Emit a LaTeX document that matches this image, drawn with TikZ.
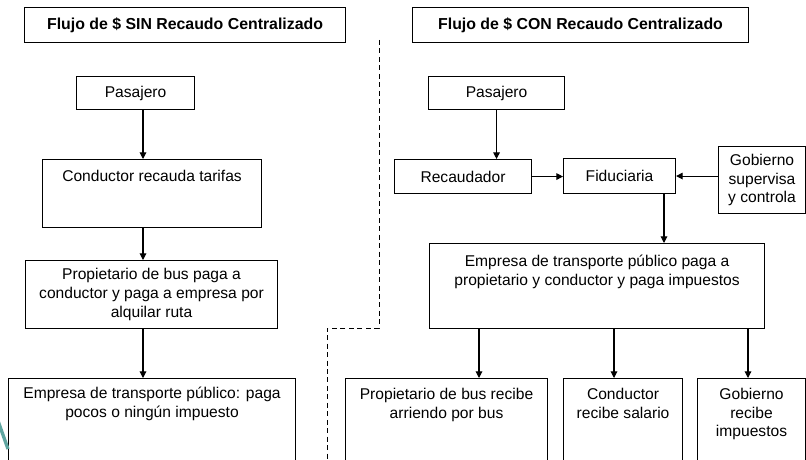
\documentclass[tikz,border=0pt]{standalone}
\usepackage{fontspec}
\setmainfont{Liberation Sans}
\usetikzlibrary{arrows.meta,positioning}
\definecolor{smudge}{RGB}{95,165,160}

\tikzset{
  box/.style={draw, line width=0.8pt, inner sep=0pt, anchor=north west, align=center,
    font=\fontsize{11.7}{14}\selectfont},
  boxsize/.style 2 args={minimum width=#1*0.75pt, minimum height=#2*0.75pt},
  headbox/.style={box, font=\fontsize{11.9}{14}\selectfont\bfseries},
  txt/.style={inner sep=0pt, anchor=north, align=center, font=\fontsize{11.7}{14}\selectfont},
  flow/.style={line width=0.8pt, -{Triangle[length=5pt,width=5pt]}},
  divider/.style={line width=0.7pt, dash pattern=on 3.75pt off 2.6pt}
}

\begin{document}
\begin{tikzpicture}[x=0.75pt,y=-0.75pt]
  %\draw[help lines,step=50] (0,0) grid (806,460);
  \clip (0,0) rectangle (806,460);
  \fill[white] (0,0) rectangle (806,460);

  % sin recaudo centralizado
  \node[headbox, boxsize={321}{35}] (titleL) at (24,7) {Flujo de \$ SIN Recaudo Centralizado};
  \node[box, boxsize={118}{33}] (pasL) at (76,76) {Pasajero};
  \node[box, boxsize={219}{68}] (condL) at (42,159) {};
  \node[txt, below=8.2pt of condL.north] (condLt) {Conductor recauda tarifas};
  \node[box, boxsize={252}{68}] (propL) at (25,260) {Propietario de bus paga a\\conductor y paga a empresa por\\alquilar ruta};
  \node[box, boxsize={287}{120}] (empL) at (8,378) {};
  \node[txt, below=6.8pt of empL.north] (empLt) {Empresa de transporte p\'ublico: paga\\pocos o ning\'un impuesto};
  \coordinate (axisL) at (143,0);
  \draw[flow] (pasL.south -| axisL) -- (condL.north -| axisL);
  \draw[flow] (condL.south -| axisL) -- (propL.north -| axisL);
  \draw[flow] (propL.south -| axisL) -- (empL.north -| axisL);

  % divisoria
  \coordinate (divA) at (379,40);
  \coordinate (divB) at (379,328);
  \coordinate (divC) at (327,328);
  \coordinate (divD) at (327,470);
  \draw[divider] (divA) -- (divB) -- (divC) -- (divD);

  % con recaudo centralizado
  \node[headbox, boxsize={336}{35}] (titleR) at (412,7) {Flujo de \$ CON Recaudo Centralizado};
  \node[box, boxsize={136}{33}] (pasR) at (428,76) {Pasajero};
  \node[box, boxsize={137}{34}] (recR) at (394,159) {Recaudador};
  \node[box, boxsize={112}{35}] (fidR) at (563,158) {Fiduciaria};
  \node[box, boxsize={87}{67}] (gobR) at (718,146) {Gobierno\\supervisa\\y controla};
  \node[box, boxsize={335}{85}] (empR) at (429,243) {};
  \node[txt, below=9pt of empR.north] (empRt) {Empresa de transporte p\'ublico paga a\\propietario y conductor y paga impuestos};
  \node[box, boxsize={202}{120}] (propR) at (345,378) {};
  \node[txt, below=7.5pt of propR.north] (propRt) {Propietario de bus recibe\\arriendo por bus};
  \node[box, boxsize={119}{120}] (condR) at (563,378) {};
  \node[txt, below=7.5pt of condR.north] (condRt) {Conductor\\recibe salario};
  \node[box, boxsize={108}{120}] (gobR2) at (697,378) {};
  \node[txt, below=7.5pt of gobR2.north] (gobR2t) {Gobierno\\recibe\\impuestos};
  \draw[flow] (pasR.south) -- (pasR.south |- recR.north);
  \draw[flow] (recR.east) -- (recR.east -| fidR.west);
  \draw[flow] (gobR.west |- fidR.east) -- (fidR.east);
  \coordinate (axisF) at (664,0);
  \coordinate (axisP) at (479,0);
  \coordinate (axisC) at (614,0);
  \coordinate (axisG) at (748,0);
  \draw[flow] (fidR.south -| axisF) -- (empR.north -| axisF);
  \draw[flow] (empR.south -| axisP) -- (propR.north -| axisP);
  \draw[flow] (empR.south -| axisC) -- (condR.north -| axisC);
  \draw[flow] (empR.south -| axisG) -- (gobR2.north -| axisG);

  \draw[smudge, line width=2.5pt] (-3,418) -- (8,449);
\end{tikzpicture}
\end{document}
